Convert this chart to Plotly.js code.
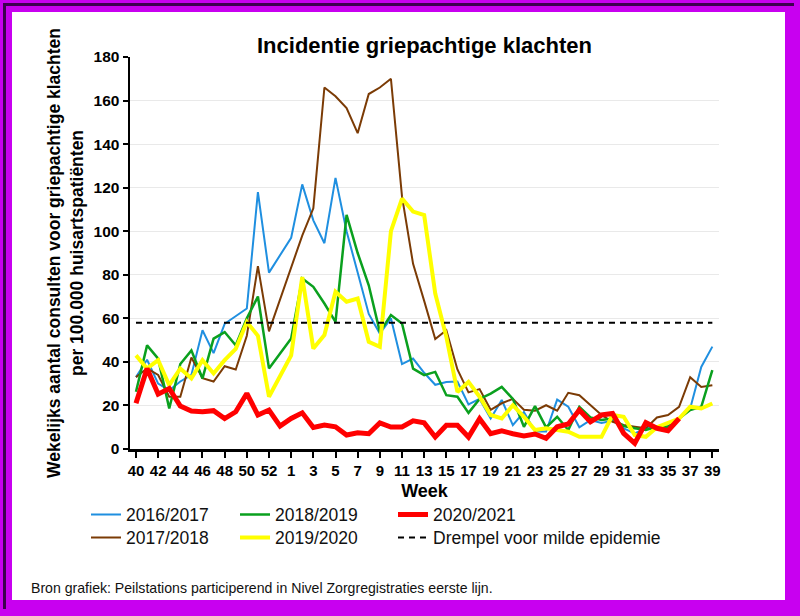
<!DOCTYPE html>
<html>
<head>
<meta charset="utf-8">
<script src="https://cdn.plot.ly/plotly-3.0.1.min.js"></script>
<style>
  html, body { margin: 0; padding: 0; background: #ffffff; }
  #wrap { position: relative; width: 800px; height: 616px; overflow: hidden; }
  #chart { position: absolute; left: 0; top: 0; width: 800px; height: 616px; }
  #frame { position: absolute; left: 0; top: 0; width: 800px; height: 616px; box-sizing: border-box;
           border-style: solid; border-color: #c800f0; border-width: 12px 15px 16px 12px; pointer-events: none; }
  #frame2 { position: absolute; left: 3px; top: 3px; width: 791px; height: 606px; box-sizing: border-box;
            border-style: solid; border-color: #3c0050; border-width: 3px 0 0 3px; pointer-events: none; }
  #caption { position: absolute; left: 31px; top: 579px; font-family: Arial, 'Liberation Sans', sans-serif;
             font-size: 15px; color: #111; white-space: nowrap; transform: scaleX(0.94); transform-origin: left top; }
</style>
</head>
<body>
<div id="wrap">
  <div id="chart"></div>
  <div id="frame"></div>
  <div id="frame2"></div>
  <div id="caption">Bron grafiek: Peilstations participerend in Nivel Zorgregistraties eerste lijn.</div>
</div>
<script>
// Weeks 40..53 and 1..39
const weeks = ["40","41","42","43","44","45","46","47","48","49","50","51","52","53",
  "1","2","3","4","5","6","7","8","9","10","11","12","13","14","15","16","17","18","19","20",
  "21","22","23","24","25","26","27","28","29","30","31","32","33","34","35","36","37","38","39"];
const tickWeeks = ["40","42","44","46","48","50","52","1","3","5","7","9","11","13","15","17","19",
  "21","23","25","27","29","31","33","35","37","39"];

const s2016 = [33,41,30,27,31,34,54.5,44,57.5,61,64.5,118,81,null,
  97,121.5,105,94.5,124.5,100,81,62,53,60,39,41.5,35,29.5,30.8,31,20.5,23,14,22.5,
  11,17,8,8,22.7,19.4,10,13.3,12,13,9.5,7.2,9.5,10,10.5,14,18.6,37.7,47];
const s2017 = [33,37,34,24,24,42,32.5,31,38,36.5,52,84,54,null,
  83,98,110.5,166,162,156.5,145,163,166,170,116,85,68,50.5,54.5,36.5,26,27.5,18,21,
  23,18,17.6,20.1,17.6,25.8,24.7,20.1,15.6,12.5,11,10.2,9.5,14.5,15.6,19.4,33,28.5,29.3];
const s2018 = [26.3,47.6,41.5,18.6,39,45.3,32.4,50.7,53.7,47.6,60,70,37,null,
  50.7,78.3,74.5,66.8,58.4,107.5,90,75.2,53.8,61.5,57.6,36.9,33.9,35.4,24.7,24,16.6,23,25.4,28.5,
  23,10.2,19.7,9.9,14.8,8.7,19.4,14.5,13.3,14,10.5,9.5,8.7,10.2,10.2,14,17.9,19.4,36.2];
const s2019 = [43,37,40.8,29.3,37,32.4,40.8,34.7,40.8,46,58.3,52,24,null,
  43,79,46.1,52.3,72.2,67.6,69.1,49.2,46.9,100,115,109,107.4,71.4,51.5,26.2,30.8,24,15.6,14,
  20.1,14.8,8.7,9.5,8.7,7.9,5.6,5.6,5.6,15.6,14.8,6.4,5.6,10,12,14,19.4,18.6,20.9];
const s2020 = [21,37,25.2,27.8,19.7,17.4,17.1,17.6,14,17.1,25.5,15.6,17.9,10.5,
  14,16.6,9.9,11,10.2,6.4,7.4,7,12,10.1,10.1,12.9,12,5.5,10.9,10.9,5.5,13.9,7,8.3,
  7,6,6.9,4.9,10.2,11.5,17.9,12.5,15.6,16.3,7.2,2.6,12.1,9.5,8.4,14,null,null,null];
const threshold = 58;
const thresholdX = [weeks[0], weeks[weeks.length - 1]];

const FONT = "Arial, 'Liberation Sans', sans-serif";

const traces = [
  {x: weeks, y: s2016, name: "2016/2017", type: "scatter", mode: "lines", connectgaps: true,
   line: {color: "#1f8fe0", width: 2}, legend: "legend"},
  {x: weeks, y: s2017, name: "2017/2018", type: "scatter", mode: "lines", connectgaps: true,
   line: {color: "#7b3b05", width: 2}, legend: "legend2"},
  {x: weeks, y: s2018, name: "2018/2019", type: "scatter", mode: "lines", connectgaps: true,
   line: {color: "#0aa01e", width: 2.5}, legend: "legend3"},
  {x: weeks, y: s2019, name: "2019/2020", type: "scatter", mode: "lines", connectgaps: true,
   line: {color: "#ffff00", width: 4}, legend: "legend4"},
  {x: weeks, y: s2020, name: "2020/2021", type: "scatter", mode: "lines", connectgaps: false,
   line: {color: "#ff0000", width: 5}, legend: "legend5"},
  {x: thresholdX, y: [threshold, threshold], name: "Drempel voor milde epidemie", type: "scatter", mode: "lines",
   line: {color: "#000000", width: 2, dash: "6px,5px"}, legend: "legend6"}
];

const PL = 130, PR = 719, PT = 57, PB = 449;
const px = v => (v - PL) / (PR - PL);
const py = v => (PB - v) / (PB - PT);

const legendBase = {
  xref: "paper", yref: "paper", xanchor: "left", yanchor: "middle",
  orientation: "v", bgcolor: "rgba(0,0,0,0)", borderwidth: 0,
  font: {family: FONT, size: 17.5, color: "#111"}, itemwidth: 30
};
const leg = (x, y) => Object.assign({}, legendBase, {x: px(x), y: py(y)});
const row1 = 514.5, row2 = 537.5;

const layout = {
  width: 800, height: 616,
  paper_bgcolor: "#ffffff", plot_bgcolor: "#ffffff",
  margin: {l: PL, r: 800 - PR, t: PT, b: 616 - PB, autoexpand: false},
  showlegend: true,
  title: {text: "<b>Incidentie griepachtige klachten</b>", font: {family: FONT, size: 22, color: "#000"},
          x: 0.5, xref: "paper", y: 1 - 45/616, yref: "container", yanchor: "middle"},
  xaxis: {
    type: "category", categoryorder: "array", categoryarray: weeks,
    range: [-0.54, 52.6],
    tickmode: "array", tickvals: tickWeeks, ticktext: tickWeeks,
    tickfont: {family: FONT, size: 15, color: "#000", weight: "bold"},
    ticks: "outside", ticklen: 6, tickwidth: 2, tickcolor: "#000",
    showline: true, linecolor: "#000", linewidth: 2.5,
    showgrid: false, zeroline: false, automargin: false,
    title: {text: "<b>Week</b>", font: {family: FONT, size: 18, color: "#000"}, standoff: 7}
  },
  yaxis: {
    range: [0, 180], tickmode: "array", tickvals: [0,20,40,60,80,100,120,140,160,180],
    tickfont: {family: FONT, size: 15.5, color: "#000", weight: "bold"},
    ticks: "outside", ticklen: 5, tickwidth: 2, tickcolor: "#000",
    showline: true, linecolor: "#000", linewidth: 2.5,
    showgrid: true, gridcolor: "#e9e9e9", gridwidth: 1, zeroline: false, automargin: false,
    title: {text: "<b>Wekelijks aantal consulten voor griepachtige klachten<br>per 100.000 huisartspatiënten</b>",
            font: {family: FONT, size: 17.5, color: "#000"}, standoff: 6}
  },
  legend: leg(86, row1),
  legend2: leg(86, row2),
  legend3: leg(235, row1),
  legend4: leg(235, row2),
  legend5: leg(393, row1),
  legend6: leg(393, row2)
};

Plotly.newPlot("chart", traces, layout, {displayModeBar: false, staticPlot: true});
</script>
</body>
</html>
